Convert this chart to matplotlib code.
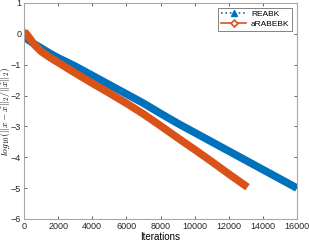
import numpy as np
import matplotlib
matplotlib.use('Agg')
import matplotlib.pyplot as plt
from matplotlib.lines import Line2D

plt.rcParams['font.family'] = 'Liberation Sans'
plt.rcParams['mathtext.fontset'] = 'cm'

# values
reabk_it = [0, 300, 600, 1000, 1500, 2000, 3000, 4000, 5000, 6000, 7000, 8000,
            9000, 10000, 11000, 12000, 13000, 14000, 15000, 16000]
reabk_err = [-0.08, -0.22, -0.33, -0.46, -0.63, -0.78, -1.05, -1.35, -1.65, -1.95, -2.25, -2.58,
             -2.9, -3.2, -3.5, -3.8, -4.1, -4.4, -4.7, -5.0]

arabebk_it = [0, 100, 300, 600, 1000, 1500, 2000, 3000, 4000, 5000, 6000, 7000, 8000,
              9000, 10000, 11000, 12000, 13100]
arabebk_err = [-0.02, 0.02, -0.12, -0.35, -0.57, -0.76, -0.93, -1.27, -1.6, -1.92, -2.25, -2.6, -2.98,
               -3.37, -3.75, -4.14, -4.54, -4.97]

blue = '#0072BD'
orange = '#D95319'

fig = plt.figure(figsize=(3.09, 2.44), dpi=100)
ax = fig.add_axes([0.0777, 0.1025, 0.8835, 0.8855])

ax.plot(reabk_it, reabk_err, color=blue, lw=5.5, solid_capstyle='butt', solid_joinstyle='round')
ax.plot(arabebk_it, arabebk_err, color=orange, lw=5.5, solid_capstyle='butt', solid_joinstyle='round')

ax.set_xlim(0, 16000)
ax.set_ylim(-6, 1)
ax.set_xticks(np.arange(0, 16001, 2000))
ax.set_yticks(np.arange(-6, 2, 1))
ax.tick_params(direction='in', length=2, width=0.5, labelsize=6.5, colors='#262626',
               top=True, right=True, pad=2)
for s in ax.spines.values():
    s.set_color('#a6a6a6')
    s.set_linewidth(0.8)

ax.set_xlabel('Iterations', fontsize=7, labelpad=1)
ax.set_ylabel(r'$log_{10}(\|x-\hat{x}\|_2/\|\hat{x}\|_2)$', fontsize=7)
ax.yaxis.set_label_coords(-0.045, 0.5)

handles = [Line2D([], [], color=blue, ls=':', lw=1.2, marker='^', ms=4, mfc=blue, mec=blue),
           Line2D([], [], color=orange, ls='-', lw=1.2, marker='D', ms=3.5, mfc='white', mec=orange, mew=1.2)]
leg = ax.legend(handles, ['REABK', 'aRABEBK'], loc='upper right', fontsize=6, frameon=True,
                fancybox=False, edgecolor='#262626', borderpad=0.35, handlelength=3.0,
                handletextpad=0.6, labelspacing=0.25, borderaxespad=0.55)
leg.get_frame().set_linewidth(0.5)

fig.savefig('out.png', dpi=100)
